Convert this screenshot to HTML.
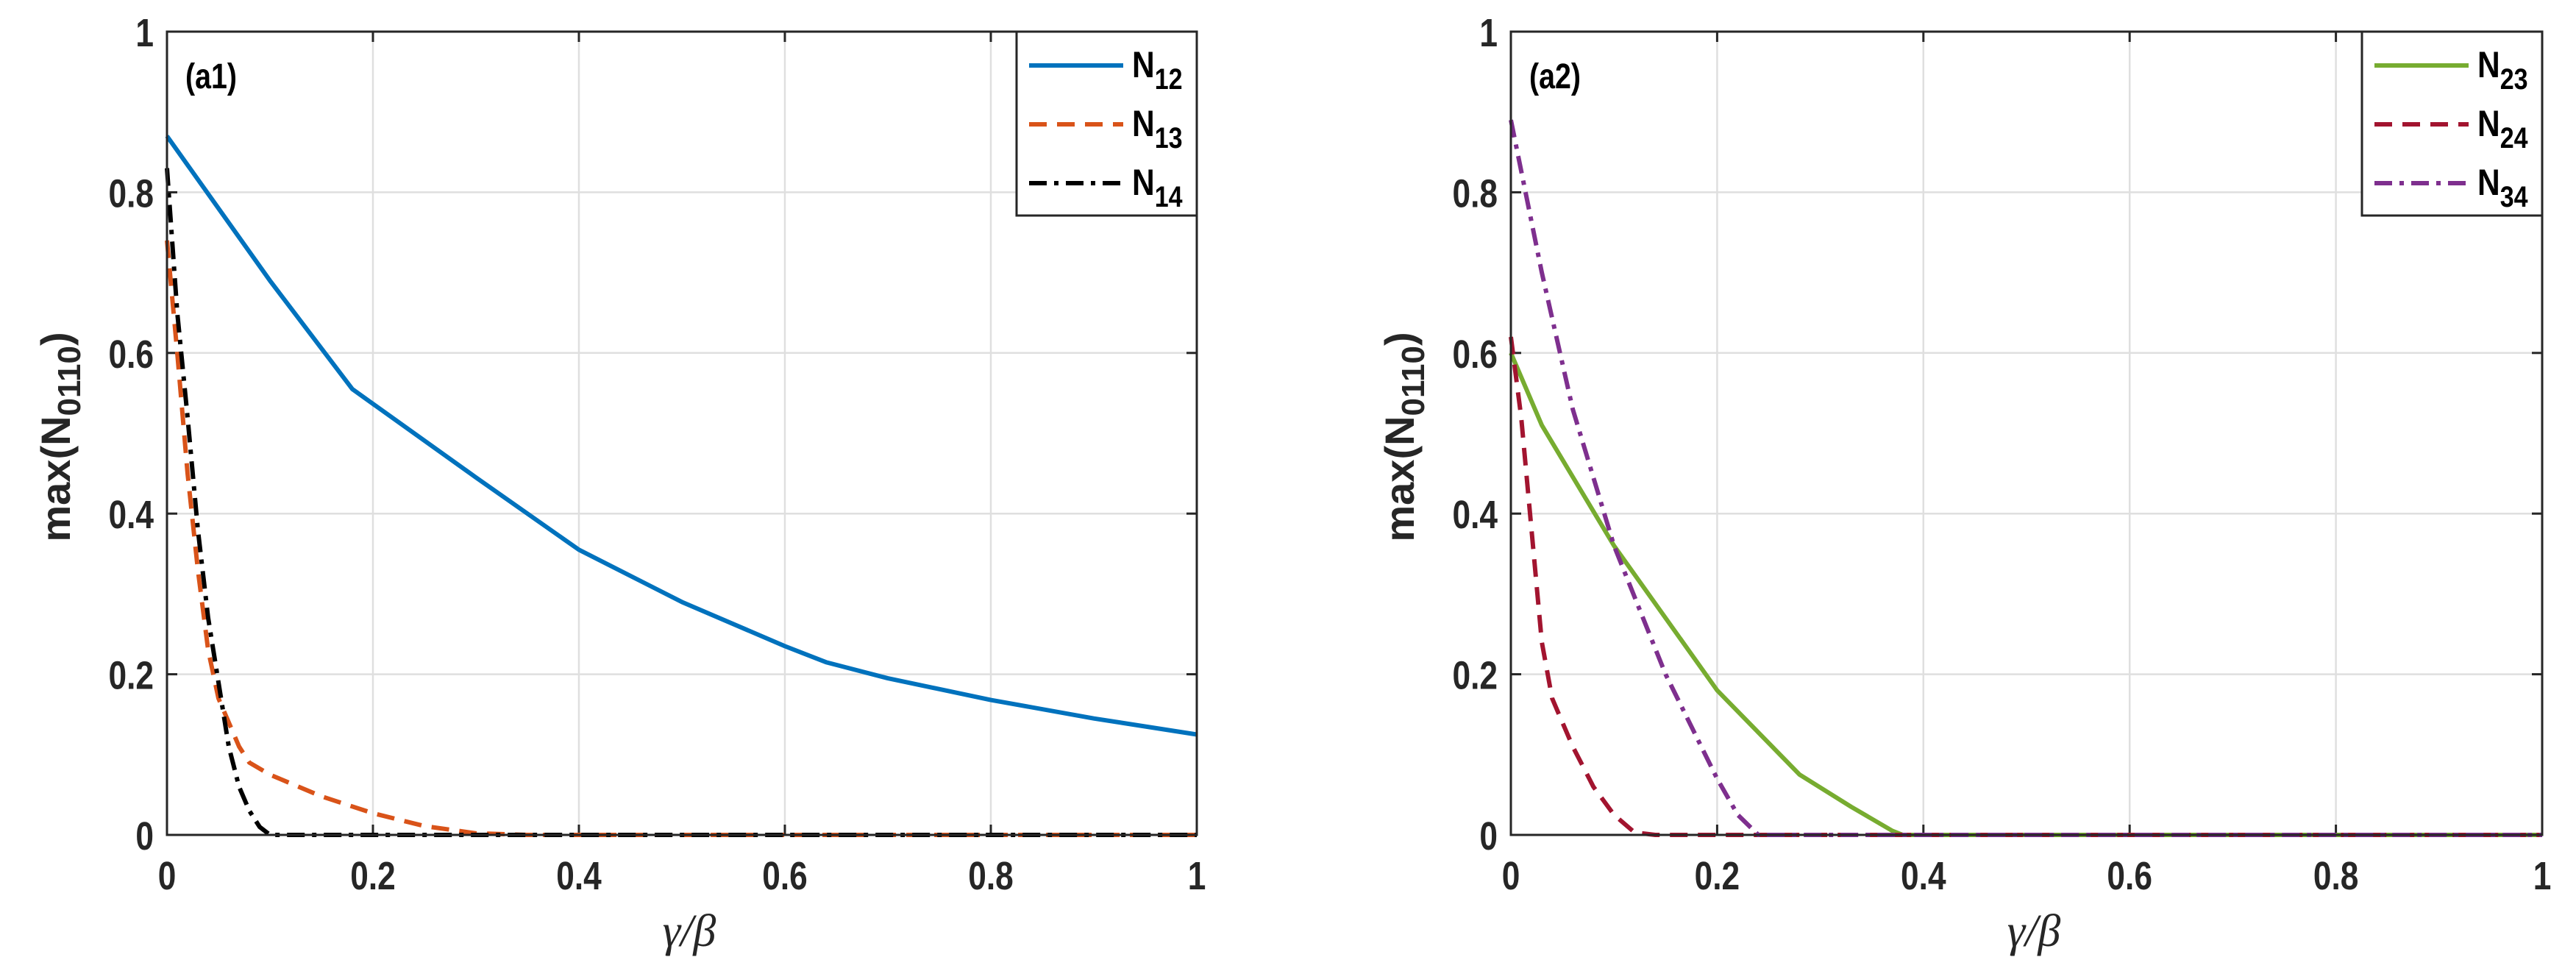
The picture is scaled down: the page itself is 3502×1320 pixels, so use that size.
<!DOCTYPE html>
<html><head><meta charset="utf-8"><style>
body{margin:0;background:#fff;}
svg{display:block;font-family:"Liberation Sans",sans-serif;}
</style></head><body>
<svg id="chart" width="3502" height="1320" viewBox="0 0 3502 1320" xmlns="http://www.w3.org/2000/svg"></svg>
<script>
const xTicks=[0,0.2,0.4,0.6,0.8,1];
const yTicks=[0,0.2,0.4,0.6,0.8,1];
const tickLabels=["0","0.2","0.4","0.6","0.8","1"];
const n12X=[0,0.1,0.18,0.3,0.4,0.5,0.6,0.64,0.7,0.8,0.9,1];
const n12Y=[0.87,0.69,0.555,0.445,0.355,0.29,0.235,0.215,0.195,0.168,0.145,0.125];
const n13X=[0,0.01,0.02,0.03,0.04,0.05,0.07,0.08,0.1,0.15,0.2,0.25,0.3,0.35,1];
const n13Y=[0.74,0.6,0.45,0.33,0.23,0.17,0.11,0.09,0.075,0.048,0.027,0.011,0.002,0,0];
const n14X=[0,0.01,0.02,0.03,0.04,0.05,0.06,0.07,0.08,0.09,0.1,1];
const n14Y=[0.83,0.65,0.52,0.38,0.27,0.19,0.11,0.06,0.03,0.01,0,0];
const n23X=[0,0.03,0.1,0.2,0.28,0.33,0.37,0.38,1];
const n23Y=[0.6,0.51,0.36,0.18,0.075,0.035,0.005,0,0];
const n24X=[0,0.01,0.02,0.03,0.04,0.06,0.08,0.1,0.12,0.14,1];
const n24Y=[0.62,0.52,0.38,0.24,0.17,0.11,0.06,0.025,0.003,0,0];
const n34X=[0,0.03,0.06,0.1,0.15,0.2,0.22,0.24,1];
const n34Y=[0.89,0.7,0.53,0.36,0.2,0.07,0.025,0,0];

const NS="http://www.w3.org/2000/svg";
const svg=document.getElementById('chart');
function mk(tag,attrs,parent){const e=document.createElementNS(NS,tag);for(const k in attrs)e.setAttribute(k,attrs[k]);(parent||svg).appendChild(e);return e;}
const TOP=43,BOT=1135;
function narrow(x,y,anchor,size,txt,parent,weight){
  const g=mk('g',{transform:`translate(${x},${y}) scale(0.82,1)`},parent);
  const t=mk('text',{x:0,y:0,'text-anchor':anchor,'font-size':size,'font-weight':weight||'bold',fill:'#262626'},g);
  t.textContent=txt;
  return t;
}
function panel(L,R,label,series,legendNames,name){
  const g=mk('g',{});
  
  
  const sx=v=>L+v*(R-L), sy=v=>BOT-v*(BOT-TOP);
  xTicks.forEach((t,i)=>{
    if(t>0&&t<1){const l=mk('line',{x1:sx(t),x2:sx(t),y1:TOP,y2:BOT,stroke:'#dfdfdf','stroke-width':2.5},g);
    }
    const tl=narrow(sx(t),1209,'middle',54,tickLabels[i],g);
    
  });
  yTicks.forEach((t,i)=>{
    if(t>0&&t<1){const l=mk('line',{x1:L,x2:R,y1:sy(t),y2:sy(t),stroke:'#dfdfdf','stroke-width':2.5},g);
    }
    const tl=narrow(L-18,sy(t)+20,'end',54,tickLabels[i],g);
    
    mk('line',{x1:L,x2:L+14,y1:sy(t),y2:sy(t),stroke:'#262626','stroke-width':3},g);
    mk('line',{x1:R,x2:R-14,y1:sy(t),y2:sy(t),stroke:'#262626','stroke-width':3},g);
  });
  xTicks.forEach(t=>{mk('line',{x1:sx(t),x2:sx(t),y1:BOT,y2:BOT-14,stroke:'#262626','stroke-width':3},g);
    mk('line',{x1:sx(t),x2:sx(t),y1:TOP,y2:TOP+14,stroke:'#262626','stroke-width':3},g);});
  series.forEach(s=>{
    const p=mk('polyline',{points:s.x.map((v,i)=>sx(v)+','+sy(s.y[i])).join(' '),fill:'none',stroke:s.c,'stroke-width':6,'stroke-dasharray':s.d,'stroke-linejoin':'round'},g);
    
  });
  const box=mk('rect',{x:L,y:TOP,width:R-L,height:BOT-TOP,fill:'none',stroke:'#262626','stroke-width':3},g);
  
  const pl=narrow(L+25,120,'start',48,label,g);
  pl.setAttribute('fill','#000');
  
  const lg=mk('g',{},g);
  
  mk('rect',{x:R-245,y:TOP,width:245,height:250,fill:'#fff',stroke:'#262626','stroke-width':3},lg);
  series.forEach((s,i)=>{
    const y=89+i*80;
    const e=mk('g',{},lg);
    
    mk('line',{x1:R-228,x2:R-100,y1:y,y2:y,stroke:s.c,'stroke-width':6,'stroke-dasharray':s.d},e);
    const tg=mk('g',{transform:`translate(${R-88},${y+16}) scale(0.85,1)`},e);
    const t=mk('text',{x:0,y:0,'font-size':50,'font-weight':'bold',fill:'#000'},tg);
    t.innerHTML='N<tspan dy="16" font-size="40">'+legendNames[i]+'</tspan>';
  });
  const xl=mk('text',{x:(L+R)/2+10,y:1286,'text-anchor':'middle','font-size':62,'font-style':'italic','font-family':'Liberation Serif, serif',fill:'#262626'},g);
  xl.textContent='γ/β';
  
  const yl=mk('text',{transform:`translate(${L-132},594) rotate(-90)`,'text-anchor':'middle','font-size':56,'font-weight':'bold',fill:'#262626'},g);
  yl.innerHTML='max(N<tspan dy="14" font-size="44">0110</tspan><tspan dy="-14">)</tspan>';
  
}
panel(227,1627,'(a1)',[
 {x:n12X,y:n12Y,c:'#0072BD',d:'none',n:'n12'},
 {x:n13X,y:n13Y,c:'#D95319',d:'24 14',n:'n13'},
 {x:n14X,y:n14Y,c:'#000000',d:'24 10 6 10',n:'n14'}],['12','13','14'],'panel-a1');
panel(2054,3456,'(a2)',[
 {x:n23X,y:n23Y,c:'#77AC30',d:'none',n:'n23'},
 {x:n24X,y:n24Y,c:'#A2142F',d:'24 14',n:'n24'},
 {x:n34X,y:n34Y,c:'#7E2F8E',d:'24 10 6 10',n:'n34'}],['23','24','34'],'panel-a2');
</script>
</body></html>
